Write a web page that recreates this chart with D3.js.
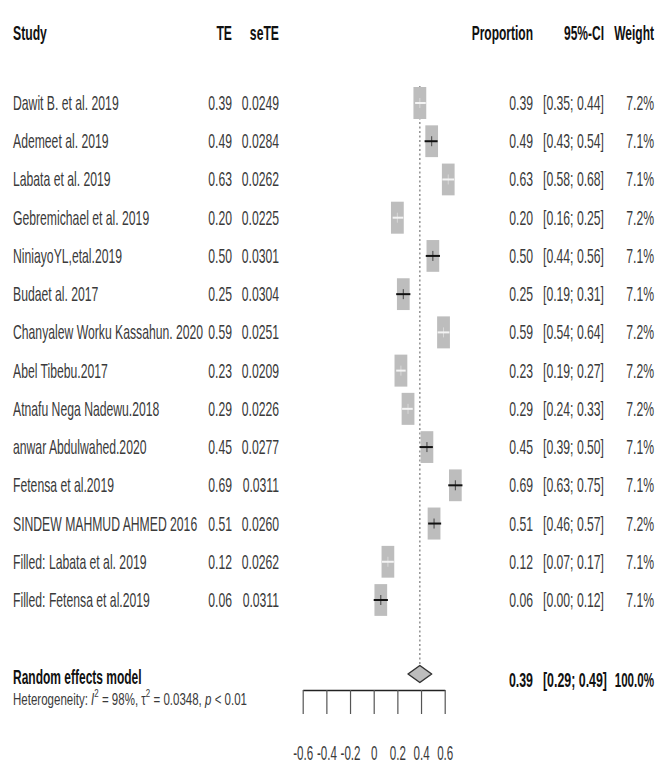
<!DOCTYPE html>
<html>
<head>
<meta charset="utf-8">
<script src="https://cdn.jsdelivr.net/npm/d3@7"></script>
<style>
  html, body { margin: 0; padding: 0; background: #fff; }
  svg { display: block; }
  text { font-family: "Liberation Sans", Arial, sans-serif; }
</style>
</head>
<body>
<svg id="chart" width="672" height="768"></svg>
<script>
// ---- data ----
const studies = [
  "Dawit B. et al. 2019", "Ademeet al. 2019", "Labata et al. 2019",
  "Gebremichael et al. 2019", "NiniayoYL,etal.2019", "Budaet al. 2017",
  "Chanyalew Worku Kassahun. 2020", "Abel Tibebu.2017", "Atnafu Nega Nadewu.2018",
  "anwar Abdulwahed.2020", "Fetensa et al.2019", "SINDEW MAHMUD AHMED 2016",
  "Filled: Labata et al. 2019", "Filled: Fetensa et al.2019"
];
const te     = [0.39, 0.49, 0.63, 0.20, 0.50, 0.25, 0.59, 0.23, 0.29, 0.45, 0.69, 0.51, 0.12, 0.06];
const teText = ["0.39","0.49","0.63","0.20","0.50","0.25","0.59","0.23","0.29","0.45","0.69","0.51","0.12","0.06"];
const seTE   = ["0.0249","0.0284","0.0262","0.0225","0.0301","0.0304","0.0251","0.0209","0.0226","0.0277","0.0311","0.0260","0.0262","0.0311"];
const ciLow  = [0.35, 0.43, 0.58, 0.16, 0.44, 0.19, 0.54, 0.19, 0.24, 0.39, 0.63, 0.46, 0.07, 0.00];
const ciHigh = [0.44, 0.54, 0.68, 0.25, 0.56, 0.31, 0.64, 0.27, 0.33, 0.50, 0.75, 0.57, 0.17, 0.12];
const ciText = ["[0.35; 0.44]","[0.43; 0.54]","[0.58; 0.68]","[0.16; 0.25]","[0.44; 0.56]","[0.19; 0.31]",
                "[0.54; 0.64]","[0.19; 0.27]","[0.24; 0.33]","[0.39; 0.50]","[0.63; 0.75]","[0.46; 0.57]",
                "[0.07; 0.17]","[0.00; 0.12]"];
const weights = [7.2, 7.1, 7.1, 7.2, 7.1, 7.1, 7.2, 7.2, 7.2, 7.1, 7.1, 7.2, 7.1, 7.1];
const pooled = { est: 0.39, lo: 0.29, hi: 0.49, text: "0.39", ci: "[0.29; 0.49]", w: "100.0%" };
const tickValues = [-0.6, -0.4, -0.2, 0, 0.2, 0.4, 0.6];
const tickLabels = ["-0.6", "-0.4", "-0.2", "0", "0.2", "0.4", "0.6"];

// ---- layout ----
const svg = d3.select("#chart");
const SX = 0.61;          // horizontal squeeze of glyphs (words)
const SXN = 0.61;         // squeeze for numeric columns
const FS = 20;            // body font size
const bodyCol = "#3a3a3a";

const x = d3.scaleLinear().domain([-0.6, 0.6]).range([302.7, 444.7]);
const y = d3.scaleLinear().domain([0, studies.length - 1]).range([103, 600]);

function txt(g, px, py, str, opt = {}) {
  return g.append("text")
    .attr("transform", `translate(${px},${py}) scale(${opt.sx || SX},1)`)
    .attr("text-anchor", opt.anchor || "start")
    .attr("font-size", opt.size || FS)
    .attr("font-weight", opt.weight || "normal")
    .attr("fill", opt.fill || bodyCol)
    .text(str);
}

// headers
const hdr = svg.append("g");
const hy = 40;
const H = { weight: "bold", fill: "#111" };
txt(hdr, 13, hy, "Study", H);
txt(hdr, 232, hy, "TE", { ...H, anchor: "end" });
txt(hdr, 279, hy, "seTE", { ...H, anchor: "end" });
txt(hdr, 533, hy, "Proportion", { ...H, anchor: "end", sx: 0.6 });
txt(hdr, 604, hy, "95%-CI", { ...H, anchor: "end", sx: 0.6 });
txt(hdr, 654, hy, "Weight", { ...H, anchor: "end", sx: 0.6 });

// reference (pooled) dotted line
svg.append("line")
  .attr("x1", x(pooled.est)).attr("x2", x(pooled.est))
  .attr("y1", 86).attr("y2", 666)
  .attr("stroke", "#777").attr("stroke-width", 1.2)
  .attr("stroke-dasharray", "2,2.5");

// rows
const rows = svg.append("g");
studies.forEach((s, i) => {
  const by = y(i) + 7;
  txt(rows, 13, by, s);
  txt(rows, 232, by, teText[i], { anchor: "end", sx: SXN });
  txt(rows, 279, by, seTE[i], { anchor: "end", sx: SXN });
  txt(rows, 533, by, teText[i], { anchor: "end", sx: SXN });
  txt(rows, 604, by, ciText[i], { anchor: "end", sx: SXN });
  txt(rows, 654, by, weights[i].toFixed(1) + "%", { anchor: "end", sx: SXN });
});

// boxes & CIs
const boxW = w => 12.8 * Math.sqrt(w / 7.2);
const boxH = w => 32 * Math.sqrt(w / 7.2);
const marks = svg.append("g");
studies.forEach((s, i) => {
  const cy = y(i);
  const bw = boxW(weights[i]), bh = boxH(weights[i]);
  const cx = x(te[i]);
  marks.append("rect")
    .attr("x", cx - bw / 2).attr("y", cy - bh / 2)
    .attr("width", bw).attr("height", bh)
    .attr("fill", "#bdbdbd");
  const inside = (x(ciHigh[i]) - x(ciLow[i])) <= bw;
  const col = inside ? "#f4f4f4" : "#111";
  marks.append("line")
    .attr("x1", x(ciLow[i])).attr("x2", x(ciHigh[i]))
    .attr("y1", cy).attr("y2", cy)
    .attr("stroke", col).attr("stroke-width", 2);
  marks.append("line")
    .attr("x1", cx).attr("x2", cx)
    .attr("y1", cy - 5).attr("y2", cy + 5)
    .attr("stroke", col).attr("stroke-width", 1)
    .attr("opacity", inside ? 0.5 : 0.7);
});

// pooled diamond
const dy = 674, dh = 8.5;
svg.append("path")
  .attr("d", `M${x(pooled.lo)},${dy} L${x(pooled.est)},${dy - dh} L${x(pooled.hi)},${dy} L${x(pooled.est)},${dy + dh} Z`)
  .attr("fill", "#bdbdbd").attr("stroke", "#333").attr("stroke-width", 1.5)
  .attr("stroke-linejoin", "round");

// pooled text
const pg = svg.append("g");
txt(pg, 13, 684, "Random effects model", { ...H, sx: 0.6 });
txt(pg, 533, 687, pooled.text, { ...H, anchor: "end", sx: 0.62 });
txt(pg, 607, 687, pooled.ci, { ...H, anchor: "end", sx: 0.62 });
txt(pg, 654, 687, pooled.w, { ...H, anchor: "end", sx: 0.58 });

// heterogeneity
const ht = pg.append("text")
  .attr("transform", `translate(13,705) scale(0.72,1)`)
  .attr("font-size", 16).attr("fill", bodyCol);
ht.append("tspan").text("Heterogeneity: ");
ht.append("tspan").attr("font-style", "italic").text("I");
ht.append("tspan").attr("font-size", 11).attr("dy", -8).text("2");
ht.append("tspan").attr("dy", 8).text(" = 98%, ");
ht.append("tspan").text("\u03c4");
ht.append("tspan").attr("font-size", 11).attr("dy", -8).text("2");
ht.append("tspan").attr("dy", 8).text(" = 0.0348, ");
ht.append("tspan").attr("font-style", "italic").text("p");
ht.append("tspan").text(" < 0.01");

// axis
const axis = d3.axisBottom(x)
  .tickValues(tickValues)
  .tickFormat((d, i) => tickLabels[i])
  .tickSize(24)
  .tickSizeOuter(0)
  .tickPadding(32);
const ag = svg.append("g").attr("transform", "translate(0,690)").call(axis);
ag.select(".domain").attr("stroke", "#222").attr("stroke-width", 1.6);
ag.selectAll(".tick line").attr("stroke", "#555").attr("stroke-width", 1.2);
ag.selectAll(".tick text")
  .attr("font-family", "Liberation Sans, Arial, sans-serif")
  .attr("font-size", FS).attr("fill", bodyCol)
  .attr("transform", `scale(0.58,1)`)
  .attr("x", 0);
</script>
</body>
</html>
